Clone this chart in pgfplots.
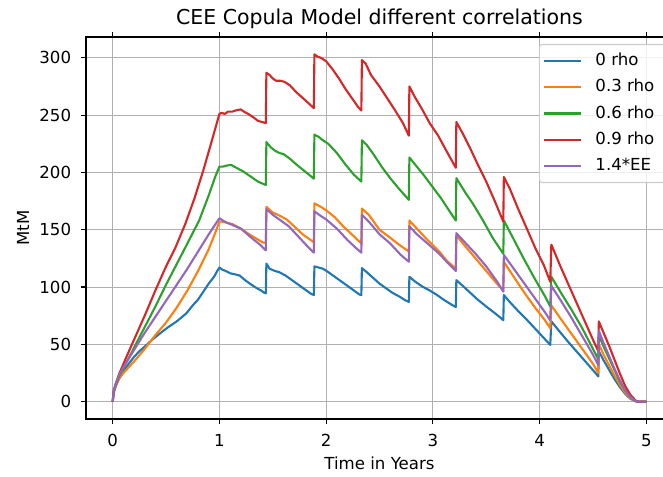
\documentclass[border=0pt]{standalone}
\usepackage{fontspec}
\setmainfont{DejaVu Sans}
\usepackage{pgfplots}
\pgfplotsset{compat=1.18}

\definecolor{tabblue}{HTML}{1F77B4}
\definecolor{taborange}{HTML}{FF7F0E}
\definecolor{tabgreen}{HTML}{2CA02C}
\definecolor{tabred}{HTML}{D62728}
\definecolor{tabpurple}{HTML}{9467BD}
\definecolor{gridgray}{HTML}{B0B0B0}
\definecolor{legendedge}{HTML}{CCCCCC}

\newcommand{\lbl}[1]{\makebox[66pt][l]{#1}}

\begin{document}
\begin{tikzpicture}
\useasboundingbox (-86pt,-57pt) rectangle (577pt,419pt);
\begin{axis}[
  at={(0pt,0pt)}, anchor=south west,
  width=587pt, height=382pt, scale only axis,
  xmin=-0.25, xmax=5.25, ymin=-15.15, ymax=318.15,
  xtick={0,1,2,3,4,5}, ytick={0,50,100,150,200,250,300},
  grid=major,
  grid style={color=gridgray, line width=1.0pt},
  axis line style={line width=1.1pt, black},
  tick align=outside, major tick length=4.9pt,
  every tick/.style={black, line width=1.1pt},
  /pgf/number format/assume math mode=true,
  tick label style={font=\fontsize{16.6}{19}\selectfont, inner sep=0pt},
  xticklabel style={anchor=north, yshift=-9.8pt},
  yticklabel style={anchor=east, xshift=-9.8pt},
  title={CEE Copula Model different correlations},
  title style={font=\fontsize{20.5}{24}\selectfont, at={(rel axis cs:0.5,1.0157)}, anchor=base},
  xlabel={Time in Years},
  xlabel style={font=\fontsize{16.6}{19}\selectfont, at={(rel axis cs:0.5,-0.131)}, anchor=base},
  ylabel={MtM},
  ylabel style={font=\fontsize{16.6}{19}\selectfont, at={(rel axis cs:-0.1073,0.5)}, anchor=center},
  legend cell align=left,
  legend image code/.code={\draw[#1] (0pt,0pt) -- (37pt,0pt);},
  legend style={
    at={(rel axis cs:1,1)}, anchor=north east, xshift=-7pt, yshift=-7pt,
    draw=legendedge, line width=1.1pt, rounded corners=3pt,
    fill=white, fill opacity=0.8, text opacity=1,
    inner xsep=4pt, inner ysep=8.5pt, row sep=10.25pt,
    font=\fontsize{16.6}{19}\selectfont,
    nodes={inner sep=0pt, text height=12.5pt, text depth=3.5pt},
    /tikz/every odd column/.append style={column sep=13pt},
  },
  every axis plot/.append style={line width=2.1pt, line join=round, no markers},
]

% 0 rho
\addplot[tabblue] coordinates {
(0,0) (0.01,8) (0.03,14) (0.06,20) (0.1,26) (0.15,33) (0.2,39) (0.25,44) (0.3,48)
(0.37,54) (0.45,60) (0.52,65) (0.6,70) (0.69,77) (0.75,84) (0.8,89) (0.85,96)
(0.9,103) (0.95,109) (0.98,114) (1.0,117)
(1.03,115) (1.06,114) (1.1,112) (1.15,111) (1.19,110) (1.24,106) (1.3,102) (1.35,99)
(1.39,97) (1.42,95) (1.435,94.5)
(1.44,120.5) (1.47,116) (1.52,114) (1.56,113) (1.62,110) (1.68,106) (1.74,102) (1.8,98)
(1.86,94) (1.885,93)
(1.89,118) (1.93,117) (1.97,116) (2.02,113) (2.08,109) (2.14,105) (2.2,101) (2.26,97)
(2.31,93.5) (2.33,93)
(2.335,116.5) (2.38,113) (2.44,108) (2.5,103) (2.56,99) (2.62,95) (2.69,91.5) (2.74,88.5) (2.775,87)
(2.78,109) (2.83,105) (2.9,100.5) (2.97,97) (3.04,93) (3.1,89) (3.16,85.5) (3.215,82.5)
(3.22,106) (3.28,101) (3.35,95) (3.42,89) (3.5,83) (3.57,78) (3.63,73.5) (3.66,71)
(3.665,93) (3.72,87) (3.8,79) (3.88,71.5) (3.96,63.5) (4.03,56.5) (4.1,49.5)
(4.11,70) (4.18,62) (4.26,53) (4.34,44.5) (4.42,36) (4.5,27.5) (4.55,22)
(4.555,44) (4.6,36) (4.65,28) (4.7,20) (4.75,13) (4.8,7) (4.85,2.5) (4.9,0.3) (4.92,0) (5.0,0)
};
\addlegendentry{\lbl{0 rho}}

% 0.3 rho
\addplot[taborange] coordinates {
(0,0) (0.01,8) (0.03,14) (0.06,20) (0.1,25) (0.2,35) (0.3,46) (0.4,58) (0.5,69)
(0.6,82) (0.7,97) (0.8,114) (0.9,133) (0.96,147) (1.0,157)
(1.03,157) (1.07,156) (1.12,155) (1.2,151) (1.28,146) (1.35,142) (1.405,139) (1.435,138.5)
(1.44,170) (1.5,165) (1.56,162.5) (1.63,159) (1.7,153) (1.78,146) (1.885,139)
(1.89,173) (1.95,170) (2.0,167) (2.08,161) (2.16,153) (2.24,146) (2.33,138)
(2.335,168.5) (2.4,163) (2.5,150) (2.6,143) (2.69,136.5) (2.775,131)
(2.78,158) (2.85,151) (2.95,141) (3.06,131) (3.13,123) (3.215,116)
(3.22,145) (3.3,136) (3.4,125) (3.5,114) (3.6,103) (3.66,97)
(3.665,122) (3.75,110) (3.85,96) (3.95,83) (4.05,71) (4.1,64)
(4.11,84) (4.2,72) (4.3,59) (4.4,46) (4.5,33) (4.55,25)
(4.555,50) (4.6,41) (4.65,32) (4.7,23) (4.75,15) (4.8,8) (4.85,3) (4.9,0.4) (4.92,0) (5.0,0)
};
\addlegendentry{\lbl{0.3 rho}}

% 0.6 rho
\addplot[tabgreen] coordinates {
(0,0) (0.01,9) (0.03,15) (0.06,22) (0.1,29) (0.2,47) (0.3,65) (0.4,83) (0.5,102)
(0.6,120) (0.7,138) (0.81,158) (0.9,180) (0.96,196) (1.0,205)
(1.03,205) (1.07,206) (1.11,206.5) (1.16,204) (1.22,201) (1.3,196) (1.36,192) (1.435,189)
(1.44,226.5) (1.48,222) (1.52,219) (1.56,217) (1.6,216) (1.66,212) (1.72,207) (1.8,201) (1.885,194.5)
(1.89,233) (1.93,231) (1.97,228) (2.02,225) (2.1,217) (2.18,207) (2.26,198) (2.33,192)
(2.335,228) (2.38,224) (2.45,215) (2.52,205) (2.6,195) (2.68,186) (2.775,176)
(2.78,213) (2.85,205) (2.92,197) (3.0,187) (3.08,177) (3.15,167) (3.215,158)
(3.22,195) (3.3,183) (3.38,172) (3.47,158) (3.56,143) (3.66,129)
(3.665,158) (3.75,143) (3.85,125) (3.95,108) (4.05,92) (4.1,83)
(4.11,109) (4.2,95) (4.3,80) (4.4,64) (4.5,46) (4.55,37)
(4.555,58) (4.6,48) (4.65,38) (4.7,28) (4.75,18) (4.8,10) (4.85,4) (4.9,0.6) (4.92,0) (5.0,0)
};
\addlegendentry{\lbl{0.6 rho}}

% 0.9 rho
\addplot[tabred] coordinates {
(0,0) (0.01,10) (0.03,16) (0.06,24) (0.124,38) (0.2,54) (0.3,75) (0.4,97) (0.5,118)
(0.586,134) (0.68,155) (0.765,177) (0.85,202) (0.93,228) (1.0,251)
(1.02,252) (1.05,251) (1.08,253) (1.12,253) (1.15,254) (1.2,255) (1.23,253) (1.27,251)
(1.32,248) (1.36,245) (1.4,244) (1.435,243)
(1.44,287) (1.47,285) (1.5,282) (1.53,280) (1.57,280) (1.61,279) (1.66,276) (1.72,270)
(1.78,265) (1.84,260) (1.885,256)
(1.89,303) (1.92,301) (1.95,300) (2.0,297) (2.06,290) (2.12,282) (2.18,273) (2.24,265)
(2.3,257) (2.33,254)
(2.335,298) (2.37,295) (2.42,285) (2.5,275) (2.57,265) (2.64,255) (2.72,243) (2.775,232)
(2.78,275) (2.83,266) (2.9,255) (2.97,243) (3.05,232) (3.12,220) (3.215,204)
(3.22,244) (3.28,234) (3.35,221) (3.42,207) (3.5,192) (3.58,175) (3.66,157)
(3.665,196) (3.72,186) (3.8,168) (3.88,151) (3.96,134) (4.04,119) (4.1,104.5)
(4.11,137) (4.2,117) (4.3,96) (4.4,75) (4.5,54) (4.55,44)
(4.555,70) (4.6,60) (4.65,49) (4.7,37) (4.75,25) (4.8,14) (4.85,6) (4.9,1) (4.92,0) (5.0,0)
};
\addlegendentry{\lbl{0.9 rho}}

% 1.4*EE
\addplot[tabpurple] coordinates {
(0,0) (0.01,9) (0.03,16) (0.06,23) (0.1,30) (0.2,45) (0.3,60) (0.4,74) (0.5,88)
(0.6,102) (0.7,116) (0.8,131) (0.9,146) (1.0,160)
(1.05,157) (1.1,155) (1.2,151) (1.3,143) (1.38,137) (1.435,132)
(1.44,168) (1.5,163) (1.56,159) (1.65,153) (1.75,143) (1.82,136) (1.885,130)
(1.89,166) (1.95,162) (2.0,159) (2.1,151) (2.2,141) (2.28,134) (2.33,130)
(2.335,163) (2.4,157) (2.5,146) (2.6,138) (2.7,128) (2.775,122)
(2.78,153) (2.85,146) (2.95,138) (3.06,129) (3.15,120) (3.215,114)
(3.22,147) (3.3,139) (3.4,129) (3.5,118) (3.6,105) (3.66,96)
(3.665,128) (3.75,117) (3.85,104) (3.95,91) (4.05,78) (4.1,71)
(4.11,101) (4.2,88) (4.3,73) (4.4,57) (4.5,41) (4.55,32)
(4.555,62) (4.6,51) (4.65,40) (4.7,29) (4.75,19) (4.8,10) (4.85,4) (4.9,0.5) (4.92,0) (5.0,0)
};
\addlegendentry{\lbl{1.4*EE}}

\end{axis}
\end{tikzpicture}
\end{document}
